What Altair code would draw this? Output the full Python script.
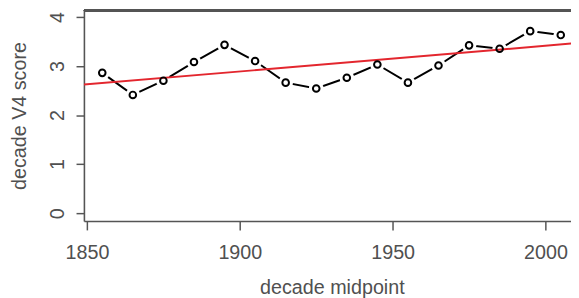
import altair as alt
import pandas as pd

years = [1855, 1865, 1875, 1885, 1895, 1905, 1915, 1925, 1935, 1945,
         1955, 1965, 1975, 1985, 1995, 2005]
scores = [2.86, 2.41, 2.70, 3.08, 3.43, 3.10, 2.66, 2.54, 2.76, 3.03,
          2.66, 3.01, 3.42, 3.35, 3.71, 3.63]
fit_years = [1849, 2011]
fit_scores = [2.62, 3.47]
x_ticks = [1850, 1900, 1950, 2000]
y_ticks = [0, 1, 2, 3, 4]

df = pd.DataFrame({"year": years, "score": scores})
fit = pd.DataFrame({"year": fit_years, "score": fit_scores})

GRAY = "#555555"
TXT = "#505050"
FONT = "Liberation Sans"

xs = alt.Scale(domain=[1849, 2008.35], nice=False, zero=False)
ys = alt.Scale(domain=[-0.16, 4.14], nice=False, zero=False)

xax = alt.Axis(values=x_ticks, format="d", grid=False, tickSize=9,
               tickColor=GRAY, domainColor=GRAY, domainWidth=1.6, tickWidth=1.5,
               labelFontSize=20, labelColor=TXT, labelFont=FONT, labelPadding=13,
               labelFlush=False,
               title="decade midpoint", titleFontSize=20, titleFont=FONT,
               titleFontWeight="normal", titleColor=TXT, titleX=251.5, titleY=67,
               titleAlign="center", titleBaseline="middle")
yax = alt.Axis(values=y_ticks, format="d", grid=False, tickSize=8,
               tickColor=GRAY, domainColor=GRAY, domainWidth=1.6, tickWidth=1.5,
               labelFontSize=20, labelColor=TXT, labelFont=FONT, labelPadding=19,
               labelAngle=270, labelAlign="center", labelBaseline="middle",
               labelFlush=False,
               title="decade V4 score", titleFontSize=20, titleFont=FONT,
               titleFontWeight="normal", titleColor=TXT, titleX=-65, titleY=107,
               titleAngle=270, titleAlign="center", titleBaseline="middle")

base = alt.Chart(df)
x = alt.X("year:Q", scale=xs, axis=xax)
y = alt.Y("score:Q", scale=ys, axis=yax)

line = base.mark_line(color="black", strokeWidth=2).encode(x=x, y=y)
halo = base.mark_point(shape="circle", filled=True, fill="#ffffff", strokeWidth=0,
                       size=220, opacity=1, fillOpacity=1).encode(x=x, y=y)
red = alt.Chart(fit).mark_line(color="#e3262e", strokeWidth=2, clip=True).encode(x=x, y=y)
pts = base.mark_point(shape="circle", filled=False, color="black", size=45,
                      strokeWidth=2, opacity=1).encode(x=x, y=y)
top = alt.Chart(df).mark_rule(color=GRAY, strokeWidth=1.6).encode(
    x=alt.value(0), x2=alt.value(494), y=alt.value(0.5))

chart = alt.layer(line, halo, red, pts, top).properties(
    width=494, height=214,
    autosize=alt.AutoSizeParams(type="none"),
    padding={"left": 77, "top": 0, "right": 0, "bottom": 76},
).configure_view(stroke=None)

chart.save("out.html", embed_options={"renderer": "svg", "actions": False})
